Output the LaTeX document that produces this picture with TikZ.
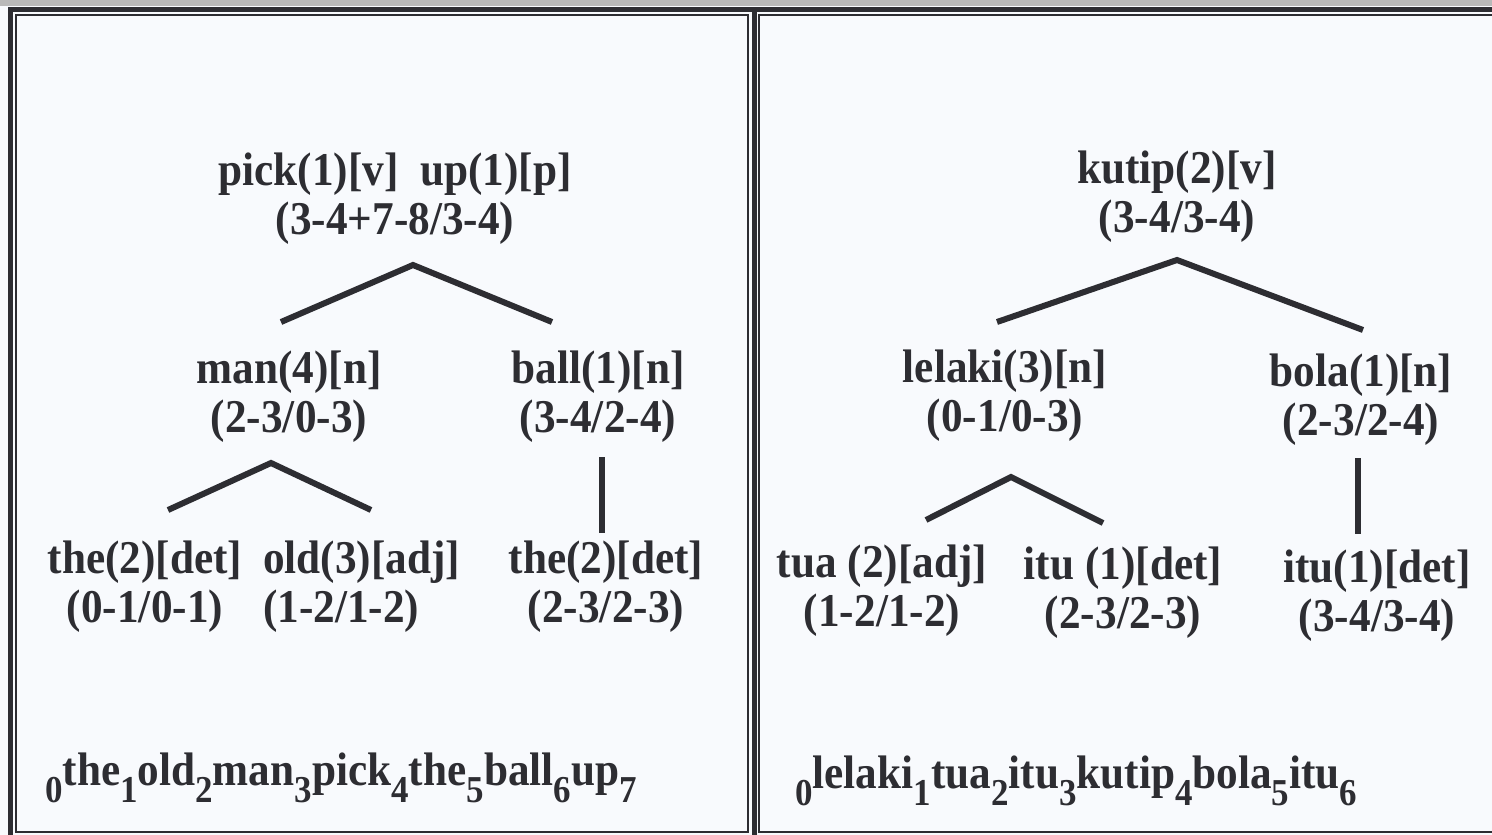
\documentclass[tikz,border=0pt]{standalone}
\usepackage{fontspec}
\setmainfont{Liberation Serif}[FakeStretch=0.92]
\usetikzlibrary{positioning}
\definecolor{ink}{RGB}{45,45,50}
\definecolor{paper}{RGB}{248,250,253}
\newcommand{\ix}[1]{\raisebox{-17pt}{\fontsize{38}{38}\selectfont #1}}

\begin{document}
\begin{tikzpicture}[x=1pt,y=-1pt,
    word/.style={font=\fontsize{47}{49}\selectfont\bfseries,text=ink,align=center,inner sep=0pt},
    branch/.style={draw=ink,line width=6pt,line join=miter},
    frame/.style={draw=ink,line width=2pt}]
    \fill[paper] (0,0) rectangle (1492,835);
    \useasboundingbox (0,0) rectangle (1492,835);

    % frame
    \fill[gray!55] (0,0) rectangle (1492,6);
    \draw[ink,line width=5pt] (10,835) -- (10,9) -- (1492,9);
    \draw[ink,line width=5pt] (754,9) -- (754,835);
    \draw[frame] (16,15) rectangle (748,832);
    \draw[frame] (1492,15) -- (759,15) -- (759,832) -- (1492,832);

    % english tree
    \node[word] (pick) at (395,199) {pick(1)[v]\ \ up(1)[p]\\(3-4+7-8/3-4)};
    \node[word] (man) at (289,397) {man(4)[n]\\(2-3/0-3)};
    \node[word] (ball) at (598,397) {ball(1)[n]\\(3-4/2-4)};
    \node[word] (the1) at (145,587) {the(2)[det]\\(0-1/0-1)};
    \node[word,align=left,anchor=west] (old) at (263,587) {old(3)[adj]\\(1-2/1-2)};
    \node[word] (the2) at (606,587) {the(2)[det]\\(2-3/2-3)};

    \coordinate (pick-top) at (413,265);
    \coordinate (pick-l) at (281,322);
    \coordinate (pick-r) at (552,322);
    \coordinate (man-top) at (271,463);
    \coordinate (man-l) at (168,510);
    \coordinate (man-r) at (371,510);
    \coordinate (ball-top) at (602,457);
    \coordinate (ball-bot) at (602,533);

    \draw[branch] (pick-l) -- (pick-top) -- (pick-r);
    \draw[branch] (man-l) -- (man-top) -- (man-r);
    \draw[branch] (ball-top) -- (ball-bot);

    \node[word,anchor=base west] (en) at (45,785)
        {\ix{0}the\ix{1}old\ix{2}man\ix{3}pick\ix{4}the\ix{5}ball\ix{6}up\ix{7}};

    % malay tree
    \node[word] (kutip) at (1177,197) {kutip(2)[v]\\(3-4/3-4)};
    \node[word] (lelaki) at (1005,396) {lelaki(3)[n]\\(0-1/0-3)};
    \node[word] (bola) at (1361,400) {bola(1)[n]\\(2-3/2-4)};
    \node[word] (tua) at (882,591) {tua (2)[adj]\\(1-2/1-2)};
    \node[word] (itu1) at (1123,593) {itu (1)[det]\\(2-3/2-3)};
    \node[word] (itu2) at (1377,596) {itu(1)[det]\\(3-4/3-4)};

    \coordinate (kutip-top) at (1177,260);
    \coordinate (kutip-l) at (997,322);
    \coordinate (kutip-r) at (1363,330);
    \coordinate (lelaki-top) at (1011,477);
    \coordinate (lelaki-l) at (926,520);
    \coordinate (lelaki-r) at (1103,523);
    \coordinate (bola-top) at (1358,458);
    \coordinate (bola-bot) at (1358,534);

    \draw[branch] (kutip-l) -- (kutip-top) -- (kutip-r);
    \draw[branch] (lelaki-l) -- (lelaki-top) -- (lelaki-r);
    \draw[branch] (bola-top) -- (bola-bot);

    \node[word,anchor=base west] (ms) at (795,788)
        {\ix{0}lelaki\ix{1}tua\ix{2}itu\ix{3}kutip\ix{4}bola\ix{5}itu\ix{6}};
\end{tikzpicture}
\end{document}
